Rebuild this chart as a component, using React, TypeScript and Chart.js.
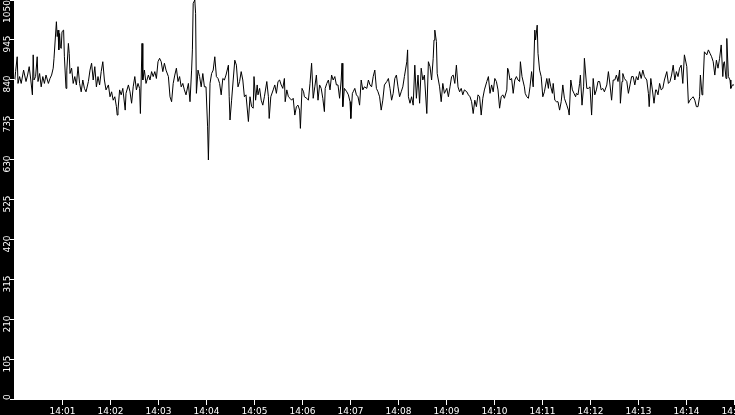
import { useEffect, useRef } from "react";
import { Chart, registerables } from "chart.js";

Chart.register(...registerables);

// seconds after 14:00:00
const seconds = [
  1, 2, 4, 5, 7, 9, 12, 15, 17, 19, 21, 23, 24, 25, 27, 29, 30, 32, 34, 36, 38, 40, 43, 45, 47, 49,
  50, 53, 54, 55, 56, 57, 58, 59, 60, 62, 63, 65, 66, 68, 69, 70, 72, 74, 76, 78, 80, 82, 84, 86, 88,
  90, 93, 95, 97, 99, 101, 103, 105, 107, 109, 111, 113, 115, 118, 120, 122, 124, 126, 128, 129, 130,
  132, 134, 136, 139, 140, 143, 145, 147, 149, 151, 153, 155, 157, 158, 160, 161, 163, 165, 168, 170,
  172, 174, 176, 178, 180, 182, 184, 186, 188, 190, 193, 195, 197, 199, 201, 203, 205, 207, 209, 211,
  213, 215, 218, 220, 222, 223, 224, 226, 227, 228, 230, 232, 234, 236, 238, 240, 242, 243, 245, 247,
  249, 251, 253, 255, 257, 259, 261, 263, 265, 268, 269, 270, 272, 274, 276, 278, 280, 282, 284, 286,
  288, 290, 293,
  295, 297, 299, 300, 302, 304, 305, 307, 309, 311, 313, 316, 318, 319, 321, 324, 326, 328, 330, 332,
  334, 336, 338, 339, 341, 343, 345, 347, 349, 351, 353, 355, 357, 358, 360, 362, 363, 366, 368, 370,
  372, 374, 376, 378, 380, 382, 384, 386, 388, 389, 391, 393, 395, 397, 399, 401, 403, 405, 407, 409,
  410, 411, 413, 416, 418, 420, 421, 423, 424, 426, 428, 430, 432, 434, 436, 438, 441, 443, 445, 447,
  449, 451, 453, 455, 457, 459, 461, 463, 466, 468, 470, 472, 474, 476, 478, 480, 482, 484, 486, 488,
  491, 492, 493, 495, 497, 499, 501, 503, 505, 507, 509, 511, 513, 516, 518, 520, 522, 524, 525, 526,
  528, 529, 532, 534, 536, 538, 541, 543, 545, 547, 549, 551, 553, 555, 557, 559, 561, 563, 566, 568,
  570, 572, 574, 576, 578, 580, 582, 584, 586, 588,
  591, 593, 595, 597, 599, 601, 603, 605, 607, 609, 611, 613, 616, 617, 618, 620, 622, 624, 626, 628,
  630, 632, 633, 635, 638, 639, 641, 643, 645, 647, 649, 651, 652, 654, 655, 657, 659, 661, 663, 666,
  668, 669, 671, 673, 674, 676, 678, 680, 682, 684, 686, 688, 691, 693, 694, 696, 698, 700, 702, 703,
  705, 707, 708, 710, 712, 713, 716, 718, 720, 722, 724, 726, 728, 730, 732, 734, 736, 738, 741, 743,
  745, 747, 749, 751, 753, 755, 757, 758, 760, 761, 763, 766, 768, 770, 772, 774, 776, 778, 780, 782,
  784, 786, 788, 791, 793, 794, 796, 798, 800, 802, 803, 805, 807, 809, 811, 813, 816, 818, 820, 822,
  824, 826, 828, 830, 832, 834, 836, 838, 841, 843, 845, 847, 849, 851, 853, 855, 857, 858, 860, 861,
  863, 866, 868, 870, 872, 874, 876, 878, 880, 882, 884, 886, 887, 888, 890, 891, 893, 895, 896, 898,
  900,
];

const values = [
  840, 862, 901, 831, 849, 831, 866, 836, 853, 875, 840, 801, 906, 840, 849, 901, 836, 857, 822, 849, 831, 853, 831, 844, 853, 871,
  897, 993, 954, 971, 919, 962, 927, 923, 967, 971, 901, 818, 866, 936, 910, 857, 871, 831, 849, 827, 875, 831, 809, 840, 818,
  809, 836, 866, 884, 840, 875, 822, 849, 827, 862, 888, 840, 814, 827, 796, 809, 787, 796, 770, 748, 761,
  814, 801, 818, 761, 805, 827, 809, 779, 822, 849, 814, 831, 818, 752, 936, 840, 866, 831, 853, 840,
  862, 849, 862, 844, 888, 897, 888, 862, 884, 866, 849, 796, 783, 831, 853, 871, 836, 849, 822, 831,
  814, 801, 831, 783, 866, 919, 1041, 1050, 1015, 805, 866, 849, 822, 857, 822, 822, 717, 630, 831, 857,
  866, 901, 849, 844, 831, 801, 844, 840, 853, 879, 796, 735, 787, 840, 892, 879, 822, 836, 862, 840,
  796, 801, 731,
  796, 770, 766, 849, 787, 827, 801, 818, 787, 774, 796, 836, 796, 739, 796, 814, 827, 805, 836, 840,
  827, 818, 844, 783, 814, 796, 792, 787, 792, 748, 770, 774, 761, 713, 818, 809, 796, 792, 787, 831,
  884, 792, 822, 853, 787, 827, 818, 792, 757, 818, 831, 840, 814, 853, 840, 849, 827, 827, 792, 840,
  884, 770, 818, 809, 801, 783, 739, 805, 809, 818, 801, 796, 774, 840, 814, 822, 818, 840, 827, 822,
  849, 866, 818, 809, 796, 761, 787, 827, 836, 844, 818, 787, 805, 844, 853, 822, 796, 809, 822, 849,
  888, 919, 796, 779, 796, 774, 879, 792, 853, 779, 871, 840, 853, 752, 888, 875, 840, 897, 945, 971,
  941, 857, 822, 783, 831, 805, 818, 796, 822, 849, 853, 831, 879, 822, 809, 818, 801, 814, 809, 801,
  796, 783, 752, 787, 770, 801, 796, 748, 792, 814,
  836, 849, 805, 827, 809, 844, 836, 814, 766, 796, 801, 792, 814, 871, 866, 840, 844, 805, 840, 849,
  840, 836, 888, 849, 822, 805, 796, 792, 822, 862, 822, 971, 945, 984, 910, 866, 849, 796, 809, 844,
  818, 844, 822, 805, 831, 787, 783, 783, 761, 783, 827, 792, 774, 761, 748, 840, 814, 805, 796, 805,
  801, 831, 853, 774, 822, 897, 818, 818, 822, 748, 844, 801, 814, 836, 836, 814, 818, 809, 827, 862,
  827, 787, 840, 840, 853, 836, 866, 779, 836, 857, 844, 836, 805, 827, 849, 849, 827, 849, 840, 862,
  844, 866, 849, 840, 805, 770, 844, 814, 779, 814, 814, 801, 831, 814, 818, 840, 862, 831, 836, 853,
  879, 840, 862, 849, 871, 879, 831, 906, 875, 779, 787, 792, 796, 787, 770, 770, 796, 853, 801, 814,
  914, 906, 919, 910, 901, 888, 853, 892, 871, 897, 932, 849, 884, 888, 844, 949, 849, 840, 818, 827,
  827,
];

const yTickValues = [0, 105, 210, 315, 420, 525, 630, 735, 840, 945, 1050];
const xTickSeconds = [60, 120, 180, 240, 300, 360, 420, 480, 540, 600, 660, 720, 780, 840, 900];
const xTickLabels = [
  "14:01", "14:02", "14:03", "14:04", "14:05", "14:06", "14:07", "14:08",
  "14:09", "14:10", "14:11", "14:12", "14:13", "14:14", "14:15",
];

const FONT = '9px "DejaVu Sans"';

const framePlugin = {
  id: "frame",
  beforeDraw(chart: any) {
    const { ctx, width, height, chartArea } = chart;
    ctx.save();
    ctx.fillStyle = "#000000";
    ctx.fillRect(0, 0, width, height);
    ctx.fillStyle = "#ffffff";
    ctx.fillRect(chartArea.left, chartArea.top, chartArea.right - chartArea.left + 1, chartArea.bottom - chartArea.top);
    ctx.restore();
  },
  afterDraw(chart: any) {
    const { ctx, chartArea } = chart;
    const xs = chart.scales.x;
    const ys = chart.scales.y;
    ctx.save();
    ctx.fillStyle = "#ffffff";
    ctx.font = FONT;
    // y axis ticks and rotated labels
    yTickValues.forEach((v) => {
      const py = ys.getPixelForValue(v);
      const row = Math.max(0, Math.floor(py - 0.5));
      ctx.fillRect(chartArea.left - 4, row, 5, 1);
      const label = String(v);
      const w = ctx.measureText(label).width;
      let c = py + 4;
      c = Math.max(w / 2, Math.min(chartArea.bottom - w / 2, c));
      ctx.save();
      ctx.translate(10, c);
      ctx.rotate(-Math.PI / 2);
      ctx.textAlign = "center";
      ctx.textBaseline = "alphabetic";
      ctx.fillText(label, 0, 0);
      ctx.restore();
    });
    // x axis ticks and labels
    xTickSeconds.forEach((s, i) => {
      const px = Math.round(xs.getPixelForValue(s));
      ctx.fillRect(px, chartArea.bottom, 1, 5);
      ctx.textAlign = "center";
      ctx.textBaseline = "alphabetic";
      ctx.fillText(xTickLabels[i], px + 0.5, 414);
    });
    ctx.restore();
  },
};

export default function App() {
  const ref = useRef<HTMLCanvasElement | null>(null);
  useEffect(() => {
    if (!ref.current) return;
    const points = seconds.map((s, i) => ({ x: s, y: values[i] }));
    const chart = new Chart(ref.current, {
      type: "line",
      data: {
        datasets: [
          {
            data: points,
            borderColor: "#000000",
            borderWidth: 1,
            pointRadius: 0,
            tension: 0,
            fill: false,
          },
        ],
      },
      options: {
        animation: false,
        responsive: false,
        devicePixelRatio: 1,
        layout: { padding: { left: 14, right: 1, top: 0, bottom: 15 } },
        plugins: { legend: { display: false }, tooltip: { enabled: false } },
        events: [],
        scales: {
          x: { type: "linear", min: 0, max: 900, display: false },
          y: { type: "linear", min: 0, max: 1050, display: false },
        },
      },
      plugins: [framePlugin],
    });
    return () => chart.destroy();
  }, []);
  return (
    <div style={{ position: "fixed", left: 0, top: 0, width: 735, height: 415, overflow: "hidden", background: "#000" }}>
      <canvas ref={ref} width={735} height={415} style={{ display: "block", width: 735, height: 415 }} />
    </div>
  );
}
